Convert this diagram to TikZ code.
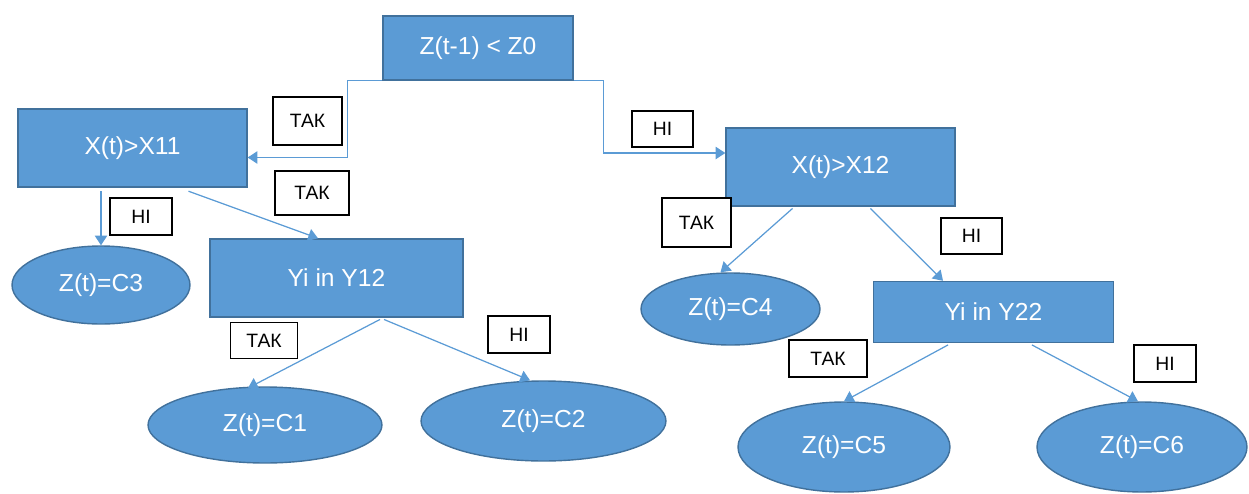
\documentclass[tikz,border=0pt]{standalone}
\usepackage{fontspec}
\setmainfont{Liberation Sans}
\usetikzlibrary{shapes.geometric,arrows.meta}

\definecolor{boxfill}{HTML}{5B9BD5}
\definecolor{boxline}{HTML}{41719C}
\definecolor{linkcol}{HTML}{5B9BD5}

\begin{document}
\begin{tikzpicture}[x = 0.02cm, y = -0.02cm,
  cond/.style = {rectangle, fill = boxfill, draw = boxline, line width = 0.8pt, inner sep = 0pt,
    text = white, font = \fontsize{14}{16}\selectfont},
  leaf/.style = {ellipse, fill = boxfill, draw = boxline, line width = 0.8pt, inner sep = 0pt,
    text = white, font = \fontsize{14}{16}\selectfont},
  lbl/.style = {rectangle, draw = black, fill = white, line width = 0.6pt, inner sep = 0pt,
    font = \fontsize{11}{13}\selectfont},
  link/.style = {draw = linkcol, line width = 0.7pt, -{Triangle[width = 7pt, length = 5.5pt]}}]

\useasboundingbox (0,0) rectangle (1249,494);

\node [cond, minimum width = 3.8cm, minimum height = 1.28cm] (top) at (478,48) {Z(t-1) < Z0};
\node [cond, minimum width = 4.58cm, minimum height = 1.56cm] (x11) at (132.5,148) {X(t)>X11};
\node [cond, minimum width = 4.58cm, minimum height = 1.56cm] (x12) at (840.5,167) {X(t)>X12};
\node [cond, minimum width = 5.06cm, minimum height = 1.56cm] (y12) at (336.5,278) {Yi in Y12};
\node [cond, minimum width = 4.8cm, minimum height = 1.22cm] (y22) at (993.5,312) {Yi in Y22};

\node [leaf, minimum width = 3.56cm, minimum height = 1.56cm] (c3) at (101,285) {Z(t)=C3};
\node [leaf, minimum width = 4.68cm, minimum height = 1.52cm] (c1) at (265,425) {Z(t)=C1};
\node [leaf, minimum width = 4.9cm, minimum height = 1.6cm] (c2) at (543.5,421) {Z(t)=C2};
\node [leaf, minimum width = 3.58cm, minimum height = 1.44cm] (c4) at (730.5,309) {Z(t)=C4};
\node [leaf, minimum width = 4.24cm, minimum height = 1.8cm] (c5) at (844,447) {Z(t)=C5};
\node [leaf, minimum width = 4.2cm, minimum height = 1.8cm] (c6) at (1142,447) {Z(t)=C6};

\node [lbl, minimum width = 1.38cm, minimum height = 0.96cm] (l1) at (307.5,121) {ТАК};
\node [lbl, minimum width = 1.22cm, minimum height = 0.72cm] (l2) at (662.5,129) {НІ};
\node [lbl, minimum width = 1.48cm, minimum height = 0.88cm] (l3) at (312,193) {ТАК};
\node [lbl, minimum width = 1.24cm, minimum height = 0.74cm] (l4) at (141,216.5) {НІ};
\node [lbl, minimum width = 1.38cm, minimum height = 0.98cm] (l5) at (696.5,222.5) {ТАК};
\node [lbl, minimum width = 1.22cm, minimum height = 0.72cm] (l6) at (971.5,236) {НІ};
\node [lbl, minimum width = 1.34cm, minimum height = 0.72cm] (l7) at (264,340.5) {ТАК};
\node [lbl, minimum width = 1.24cm, minimum height = 0.74cm] (l8) at (519,334.5) {НІ};
\node [lbl, minimum width = 1.56cm, minimum height = 0.74cm] (l9) at (828,358.5) {ТАК};
\node [lbl, minimum width = 1.24cm, minimum height = 0.74cm] (l10) at (1165,363.5) {НІ};



\draw [link] (top.south west) -- ++(-35,0) |- ([yshift = -0.19cm]x11.east);
\draw [link] (top.south east) -- ++(30,0) |- ([yshift = 0.28cm]x12.west);
\draw [link] ([yshift = -2pt]c3.north |- x11.south) -- (c3.north);
\draw [link] ([xshift = 1.12cm, yshift = -2pt]x11.south) -- ([xshift = -0.37cm]y12.north);
\draw [link] ([xshift = -0.96cm, yshift = -1pt]x12.south) -- ([xshift = -0.2cm]c4.north);
\draw [link] ([xshift = 0.6cm, yshift = -1pt]x12.south) -- ([xshift = -1.01cm]y22.north);
\draw [link] ([xshift = 0.87cm, yshift = -1pt]y12.south) -- ([xshift = -0.34cm, yshift = -1pt]c1.north);
\draw [link] ([xshift = 0.95cm, yshift = -1pt]y12.south) -- ([xshift = -0.27cm]c2.north);
\draw [link] ([xshift = -0.91cm, yshift = -1pt]y22.south) -- (c5.north);
\draw [link] ([xshift = 0.77cm, yshift = -1pt]y22.south) -- ([xshift = -0.08cm]c6.north);

\end{tikzpicture}
\end{document}
